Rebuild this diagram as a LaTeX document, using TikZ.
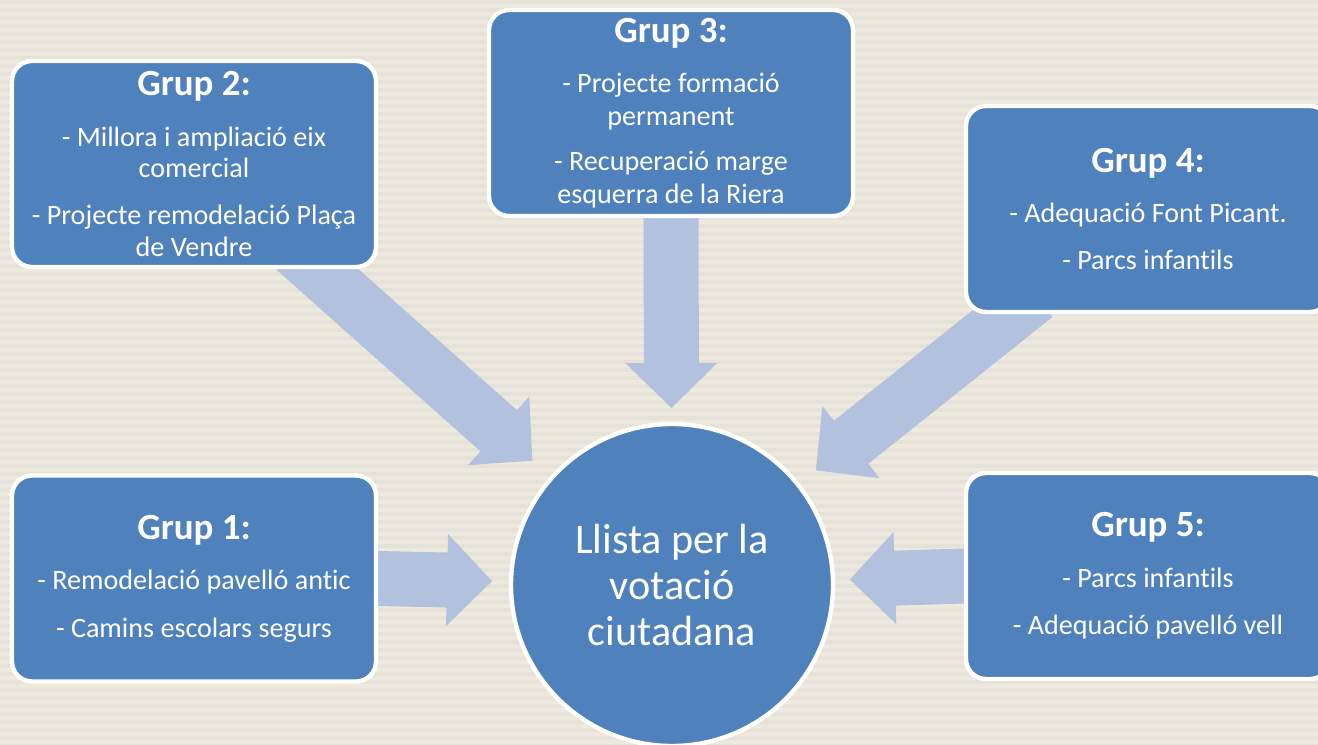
\documentclass[tikz,border=0pt]{standalone}
\usepackage{fontspec}
\setmainfont{Carlito}[Ligatures={NoCommon}]
\usetikzlibrary{calc}

\definecolor{boxblue}{HTML}{4F81BD}
\definecolor{flowblue}{HTML}{B2C2DE}
\definecolor{paper}{HTML}{EEE9DD}
\definecolor{paperline}{HTML}{E5E3D9}

\pgfdeclarelayer{back}
\pgfdeclarelayer{flows}
\pgfsetlayers{back,flows,main}

\newcommand{\grup}[1]{{\fontsize{21}{24}\selectfont\bfseries #1}}
% #1 = start, #2 = tip
\newcommand{\flowarrow}[2]{%
  \coordinate (rear) at ($(#1)!-0.6cm!(#2)$);
  \coordinate (hb) at ($(#2)!0.9cm!(#1)$);
  \fill[flow] ($(rear)!0.55cm!90:(#2)$) -- ($(hb)!0.55cm!90:(#2)$) --
    ($(hb)!0.92cm!90:(#2)$) -- (#2) -- ($(hb)!0.92cm!-90:(#2)$) --
    ($(hb)!0.55cm!-90:(#2)$) -- ($(rear)!0.55cm!-90:(#2)$) -- cycle;
}

\begin{document}
\begin{tikzpicture}[
	group/.style={rectangle, rounded corners=0.4cm, fill=boxblue, draw=white, line width=2.5pt,
		minimum width=7.28cm, minimum height=4.12cm, text=white, align=center,
		font=\fontsize{16}{17.8}\selectfont},
	goal/.style={circle, fill=boxblue, draw=white, line width=2.5pt, minimum size=6.44cm,
		text=white, align=center, font=\fontsize{24}{26}\selectfont},
	flow/.style={fill=flowblue}
	]
	\clip (0,0) rectangle (26.36,-14.9);
	\begin{pgfonlayer}{back}
		\fill[paper] (0,0) rectangle (26.36,-14.9);
		\foreach \i in {0,...,93}
			\fill[paperline] (0,-\i*0.16) rectangle (26.36,-\i*0.16-0.08);
	\end{pgfonlayer}
	
	\node[group] (g2) at (3.88,-3.28) {\grup{Grup 2:}\\[11pt]
		- Millora i ampliació eix\\ comercial\\[9pt]
		- Projecte remodelació Plaça\\ de Vendre};
	\node[group, inner ysep=1pt, font=\fontsize{16}{18.8}\selectfont] (g3) at (13.42,-2.26)
		{\grup{Grup 3:}\\[9.7pt]
		- Projecte formació\\ permanent\\[6.8pt]
		- Recuperació marge\\ esquerra de la Riera};
	\node[group] (g4) at (22.96,-4.18) {\grup{Grup 4:}\\[11pt]
		- Adequació Font Picant.\\[9pt]
		- Parcs infantils};
	\node[group] (g1) at (3.88,-11.57) {\grup{Grup 1:}\\[11pt]
		- Remodelació pavelló antic\\[9pt]
		- Camins escolars segurs};
	\node[group] (g5) at (22.96,-11.52) {\grup{Grup 5:}\\[11pt]
		- Parcs infantils\\[9pt]
		- Adequació pavelló vell};
	\node[goal] (vote) at (13.44,-11.7) {Llista per la\\ votació\\ ciutadana};
	
	\coordinate (s1) at (g1.east);
	\coordinate (s2) at ($(g2.south east)+(-1.22,0)$);
	\coordinate (s3) at (g3.south);
	\coordinate (s4) at ($(g4.south west)+(0.96,0)$);
	\coordinate (s5) at (g5.west);
	\coordinate (t1) at ($(vote.center)!3.6cm!(s1)$);
	\coordinate (t2) at ($(vote.center)!3.74cm!(s2)$);
	\coordinate (t3) at ($(vote.center)!3.54cm!(s3)$);
	\coordinate (t4) at ($(vote.center)!3.68cm!(s4)$);
	\coordinate (t5) at ($(vote.center)!3.56cm!(s5)$);
	\begin{pgfonlayer}{flows}
		\foreach \k in {1,...,5} {\flowarrow{s\k}{t\k}}
	\end{pgfonlayer}
\end{tikzpicture}
\end{document}
